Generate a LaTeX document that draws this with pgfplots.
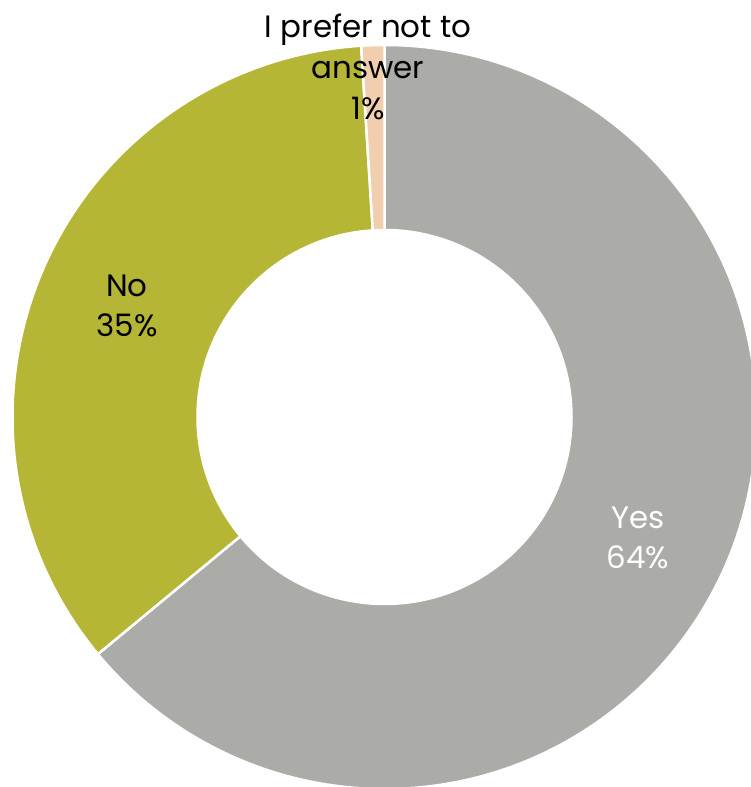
\documentclass[border=0pt]{standalone}
\usepackage{pgfplots}
\usepackage{pgfplotstable}
\pgfplotsset{compat=1.18}
\usepackage{fontspec}
\setmainfont{Poppins}
\definecolor{cyes}{HTML}{ABACA7}
\definecolor{cno}{HTML}{B5B536}
\definecolor{cpref}{HTML}{F1CFAE}
\pgfplotstableread{
label value
Yes 64
No 35
Pref 1
}\datatable
\begin{document}
\begin{tikzpicture}
\gdef\sectors{}
\xdef\cum{0}
\foreach \i/\col in {0/cyes,1/cno,2/cpref}{
  \pgfplotstablegetelem{\i}{value}\of\datatable
  \pgfmathsetmacro\a{90-\cum*3.6}
  \pgfmathsetmacro\newcum{\cum+\pgfplotsretval}
  \pgfmathsetmacro\b{90-\newcum*3.6}
  \xdef\cum{\newcum}
  \xdef\sectors{\unexpanded\expandafter{\sectors}\noexpand\fill[\col,draw=white,line width=2.5bp] (axis cs:384.5,370) ++(\a:372bp) arc[start angle=\a,end angle=\b,radius=372bp] -- ++(\b:-185bp) arc[start angle=\b,end angle=\a,radius=187bp] -- cycle;}
}
\begin{axis}[hide axis, scale only axis, width=751bp, height=787bp,
  xmin=0, xmax=751, ymin=0, ymax=787]
\sectors
\node[white, align=center, font=\fontsize{31}{40}\selectfont] at (axis cs:638,249) {Yes\\64\%};
\node[black, align=center, font=\fontsize{31}{40}\selectfont] at (axis cs:127,481) {No\\35\%};
\node[black, align=center, font=\fontsize{31}{41}\selectfont] at (axis cs:368,720) {I prefer not to\\answer\\1\%};
\end{axis}
\pgfresetboundingbox
\path (current axis.south west) rectangle (current axis.north east);
\end{tikzpicture}
\end{document}
